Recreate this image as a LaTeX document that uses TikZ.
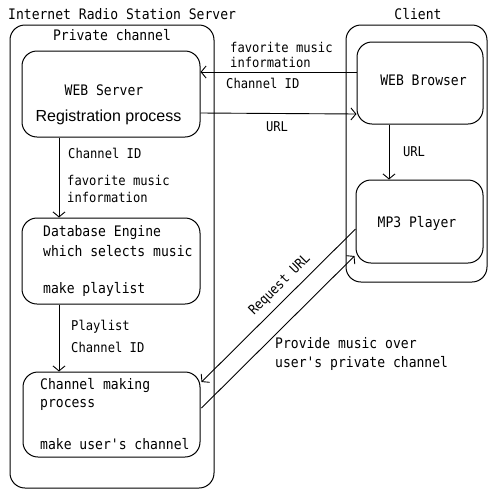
\documentclass[tikz,border=0pt]{standalone}
\usepackage{fontspec}
\usetikzlibrary{arrows.meta}
\newfontfamily\gothic[FakeStretch=0.9]{DejaVu Sans Mono}
\newfontfamily\arialf{Liberation Sans}
\tikzset{
  box/.style={draw, line width=1pt, rounded corners=15pt, inner sep=0pt},
  txt/.style={inner sep=0pt, font=\gothic\fontsize{14.5}{16}\selectfont},
  lbl/.style={inner sep=0pt, font=\gothic\fontsize{13.5}{15}\selectfont},
  arr/.style={line width=0.9pt, -{Straight Barb[length=5pt,width=12pt]}}
}
\begin{document}
\begin{tikzpicture}[x=1pt,y=-1pt]
\useasboundingbox (0,0) rectangle (489,491);
% containers
\node[box, minimum width=204pt, minimum height=463pt] (server) at (112,256.5) {};
\node[box, minimum width=141pt, minimum height=257pt] (client) at (416.5,153.5) {};
% inner boxes
\node[box, minimum width=178pt, minimum height=86pt] (web) at (111,94) {};
\node[box, minimum width=126pt, minimum height=82pt] (browser) at (420,83) {};
\node[box, minimum width=127pt, minimum height=83pt] (mp3) at (419.5,221.5) {};
\node[box, minimum width=178pt, minimum height=86pt] (db) at (111,261) {};
\node[box, minimum width=177pt, minimum height=85pt] (chan) at (111.5,414.5) {};
% titles
\node[txt, anchor=west] (ttl) at (8,14) {Internet Radio Station Server};
\node[txt] (priv) at (112,35) {Private channel};
\node[txt] (cli) at (418,14) {Client};
% box texts
\node[txt] (webt1) at (104,90) {WEB Server};
\node[inner sep=0pt, font=\arialf\fontsize{16}{18}\selectfont] (webt2) at (108.5,117) {Registration process};
\node[txt] (brt) at (423.5,80) {WEB Browser};
\node[txt] (mp3t) at (417,223) {MP3 Player};
\node[txt, anchor=west] (db1) at (43,233) {Database Engine};
\node[txt, anchor=west] (db2) at (43,251) {which selects music};
\node[txt, anchor=west] (db3) at (43,289) {make playlist};
\node[txt, anchor=west] (ch1) at (40,386) {Channel making};
\node[txt, anchor=west] (ch2) at (40,405) {process};
\node[txt, anchor=west] (ch3) at (40,444) {make user's channel};
% connectors
\draw[arr] ([yshift=11pt]browser.west) -- ([yshift=22pt]web.east);
\draw[arr] ([yshift=-19pt]web.east) -- ([yshift=-31pt]browser.west);
\draw[arr] ([xshift=-31pt]browser.south) -- ([xshift=-30.5pt]mp3.north);
\draw[arr] ([xshift=-52pt]web.south) -- ([xshift=-52pt]db.north);
\draw[arr] ([xshift=-52pt]db.south) -- ([xshift=-52.5pt]chan.north);
\draw[arr] ([yshift=-7.5pt]mp3.west) -- ([yshift=32.5pt,xshift=1pt]chan.east);
\draw[arr] ([yshift=6.5pt,xshift=1pt]chan.east) -- ([yshift=-34.5pt,xshift=-1pt]mp3.west);
% connector labels
\node[lbl, anchor=west] (l1) at (230,47) {favorite music};
\node[lbl, anchor=west] (l2) at (230,62) {information};
\node[lbl, anchor=west] (l3) at (226,83) {Channel ID};
\node[lbl] (l4) at (277,127) {URL};
\node[lbl] (l5) at (414,152) {URL};
\node[lbl, anchor=west] (l6) at (68,153) {Channel ID};
\node[lbl, anchor=west] (l7) at (67,180) {favorite music};
\node[lbl, anchor=west] (l8) at (67,197) {information};
\node[lbl, anchor=west] (l9) at (71,327) {Playlist};
\node[lbl, anchor=west] (l10) at (71,347) {Channel ID};
\node[lbl, rotate=45] (l11) at (280,285) {Request URL};
\node[txt, anchor=west] (l12) at (275,343) {Provide music over};
\node[txt, anchor=west] (l13) at (275,363) {user's private channel};
\end{tikzpicture}
\end{document}
